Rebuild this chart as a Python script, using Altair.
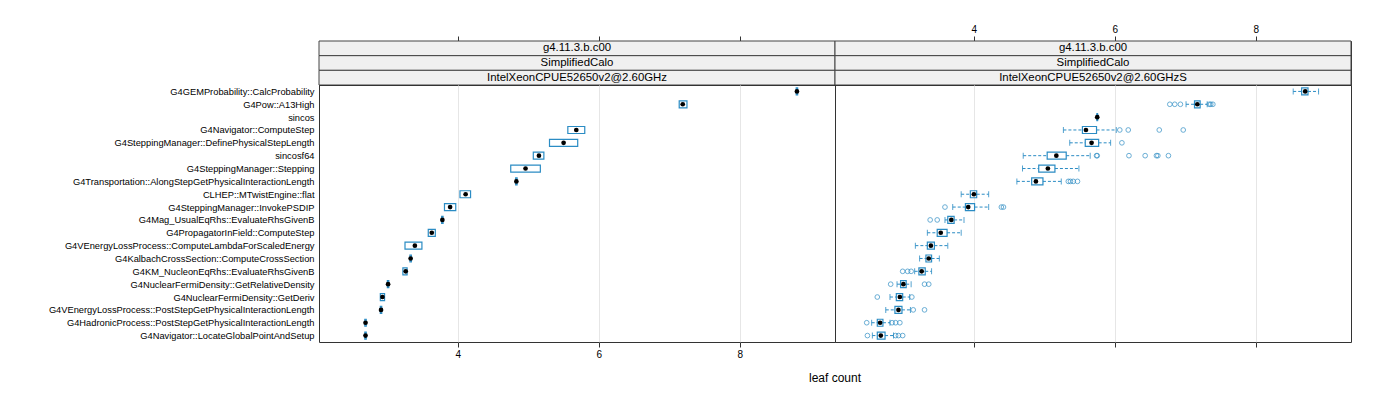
import altair as alt
import pandas as pd

categories = [
    "G4GEMProbability::CalcProbability",
    "G4Pow::A13High",
    "sincos",
    "G4Navigator::ComputeStep",
    "G4SteppingManager::DefinePhysicalStepLength",
    "sincosf64",
    "G4SteppingManager::Stepping",
    "G4Transportation::AlongStepGetPhysicalInteractionLength",
    "CLHEP::MTwistEngine::flat",
    "G4SteppingManager::InvokePSDIP",
    "G4Mag_UsualEqRhs::EvaluateRhsGivenB",
    "G4PropagatorInField::ComputeStep",
    "G4VEnergyLossProcess::ComputeLambdaForScaledEnergy",
    "G4KalbachCrossSection::ComputeCrossSection",
    "G4KM_NucleonEqRhs::EvaluateRhsGivenB",
    "G4NuclearFermiDensity::GetRelativeDensity",
    "G4NuclearFermiDensity::GetDeriv",
    "G4VEnergyLossProcess::PostStepGetPhysicalInteractionLength",
    "G4HadronicProcess::PostStepGetPhysicalInteractionLength",
    "G4Navigator::LocateGlobalPointAndSetup",
]

# left panel (IntelXeonCPUE52650v2@2.60GHz)
left_q1 = [8.80, 7.14, None, 5.56, 5.30, 5.07, 4.75, 4.82, 4.03, 3.81,
           3.77, 3.58, 3.25, 3.32, 3.22, 3.00, 2.90, 2.90, 2.68, 2.68]
left_med = [8.81, 7.19, None, 5.68, 5.50, 5.15, 4.96, 4.83, 4.11, 3.89,
            3.78, 3.63, 3.39, 3.33, 3.26, 3.01, 2.93, 2.91, 2.69, 2.69]
left_q3 = [8.82, 7.25, None, 5.80, 5.70, 5.22, 5.17, 4.84, 4.18, 3.97,
           3.79, 3.68, 3.49, 3.34, 3.28, 3.02, 2.96, 2.92, 2.70, 2.70]

# right panel (IntelXeonCPUE52650v2@2.60GHzS)
right_wlo = [8.53, 7.01, 5.74, 5.27, 5.36, 4.70, 4.69, 4.61, 3.82, 3.70,
             3.59, 3.34, 3.17, 3.23, 3.16, 2.91, 2.81, 2.75, 2.55, 2.56]
right_q1 = [8.65, 7.13, 5.745, 5.54, 5.58, 5.04, 4.92, 4.82, 3.95, 3.88,
            3.63, 3.48, 3.34, 3.32, 3.22, 2.96, 2.90, 2.88, 2.63, 2.63]
right_med = [8.70, 7.17, 5.75, 5.59, 5.67, 5.17, 5.05, 4.88, 4.00, 3.92,
             3.68, 3.53, 3.39, 3.36, 3.26, 3.00, 2.95, 2.93, 2.67, 2.68]
right_q3 = [8.74, 7.21, 5.755, 5.74, 5.77, 5.31, 5.15, 4.98, 4.04, 4.01,
            3.72, 3.62, 3.44, 3.40, 3.31, 3.04, 2.99, 2.98, 2.71, 2.74]
right_whi = [8.89, 7.31, 5.76, 6.02, 5.94, 5.65, 5.49, 5.24, 4.21, 4.21,
             3.86, 3.82, 3.63, 3.51, 3.40, 3.11, 3.09, 3.10, 2.81, 2.86]
right_outliers = [
    [],
    [6.78, 6.85, 6.93, 7.34, 7.36, 7.39],
    [],
    [6.07, 6.19, 6.63, 6.97],
    [6.10],
    [5.74, 5.75, 6.20, 6.43, 6.59, 6.61, 6.76],
    [],
    [5.34, 5.37, 5.41, 5.47],
    [],
    [3.59, 4.39, 4.42],
    [3.38, 3.48],
    [],
    [],
    [],
    [2.99, 3.06, 3.11],
    [2.82, 3.30, 3.36],
    [2.63, 3.12],
    [3.14, 3.30],
    [2.48, 2.84, 2.89, 2.95],
    [2.49, 2.89, 2.93, 2.99],
]

strip_left = ["g4.11.3.b.c00", "SimplifiedCalo", "IntelXeonCPUE52650v2@2.60GHz"]
strip_right = ["g4.11.3.b.c00", "SimplifiedCalo", "IntelXeonCPUE52650v2@2.60GHzS"]
x_ticks = [4, 6, 8]
x_domain = [2.03, 9.35]
x_title = ["leaf count"]

W, H, SH = 516, 257, 44
BLUE = "#2b8cc4"
FONT = "Liberation Sans"

left_df = pd.DataFrame({"cat": categories, "q1": left_q1, "med": left_med, "q3": left_q3}).dropna()
right_df = pd.DataFrame({"cat": categories, "wlo": right_wlo, "q1": right_q1, "med": right_med,
                         "q3": right_q3, "whi": right_whi})
out_df = pd.DataFrame([{"cat": c, "v": v} for c, vals in zip(categories, right_outliers) for v in vals])

xscale = alt.Scale(domain=x_domain, nice=False, zero=False)
yscale = alt.Scale(type="point", domain=categories, padding=0.5)


def strip(labels, show_labels):
    df = pd.DataFrame({"lab": labels})
    yenc = alt.Y("lab:N", sort=labels, axis=None,
                 scale=alt.Scale(type="band", domain=labels, paddingInner=0, paddingOuter=0))
    rect = alt.Chart(df).mark_rect(fill="#f0f0f0", stroke="#444", strokeWidth=1).encode(
        y=yenc, x=alt.value(0), x2=alt.value(W))
    txt = alt.Chart(df).mark_text(fontSize=11.4, font=FONT, color="black", baseline="middle").encode(
        y=yenc, x=alt.value(W / 2), text="lab:N")
    ax = alt.Chart(pd.DataFrame({"t": x_ticks})).mark_point(opacity=0).encode(
        x=alt.X("t:Q", scale=xscale,
                axis=alt.Axis(orient="top", values=x_ticks, labels=show_labels, grid=False,
                              title=None, tickSize=5, labelPadding=2)))
    return alt.layer(rect, txt, ax).properties(width=W, height=SH)


def yenc(left):
    if left:
        return alt.Y("cat:N", sort=categories, scale=yscale,
                     axis=alt.Axis(title=None, ticks=False, tickSize=0, labelPadding=5,
                                   labelFontSize=9.3, labelLimit=600, domain=False, grid=False))
    return alt.Y("cat:N", sort=categories, scale=yscale, axis=None)


def xenc(field, left):
    return alt.X(field, type="quantitative", scale=xscale,
                 axis=alt.Axis(orient="bottom", values=x_ticks, labels=left, grid=True,
                               title=None, tickSize=5, labelPadding=2))


def left_panel():
    box = alt.Chart(left_df).mark_bar(size=7, fill="transparent", stroke=BLUE, strokeWidth=1.2).encode(
        y=yenc(True), x=xenc("q1", True), x2="q3:Q")
    med = alt.Chart(left_df).mark_circle(size=22, color="black", opacity=1).encode(
        y=yenc(True), x=xenc("med", True))
    return alt.layer(box, med).properties(width=W, height=H)


def right_panel():
    w1 = alt.Chart(right_df).mark_rule(color=BLUE, strokeDash=[3, 2], strokeWidth=1).encode(
        y=yenc(False), x=xenc("wlo", False), x2="q1:Q")
    w2 = alt.Chart(right_df).mark_rule(color=BLUE, strokeDash=[3, 2], strokeWidth=1).encode(
        y=yenc(False), x=xenc("q3", False), x2="whi:Q")
    c1 = alt.Chart(right_df).mark_tick(color=BLUE, size=6, thickness=1, opacity=0.8).encode(
        y=yenc(False), x=xenc("wlo", False))
    c2 = alt.Chart(right_df).mark_tick(color=BLUE, size=6, thickness=1, opacity=0.8).encode(
        y=yenc(False), x=xenc("whi", False))
    box = alt.Chart(right_df).mark_bar(size=7, fill="transparent", stroke=BLUE, strokeWidth=1.2).encode(
        y=yenc(False), x=xenc("q1", False), x2="q3:Q")
    med = alt.Chart(right_df).mark_circle(size=22, color="black", opacity=1).encode(
        y=yenc(False), x=xenc("med", False))
    outs = alt.Chart(out_df).mark_point(shape="circle", filled=False, size=22, color=BLUE,
                                        strokeWidth=1).encode(
        y=yenc(False), x=xenc("v", False))
    title = alt.Chart(pd.DataFrame({"t": x_title})).mark_text(
        fontSize=12, font=FONT, color="black", baseline="middle", align="center").encode(
        text="t:N", x=alt.value(0), y=alt.value(H + 36))
    return alt.layer(w1, w2, c1, c2, box, med, outs, title).properties(width=W, height=H)


chart = alt.concat(
    strip(strip_left, False), strip(strip_right, True),
    left_panel(), right_panel(),
    columns=2, spacing=0, bounds="flush",
).properties(
    padding={"left": 47, "top": 23, "right": 5, "bottom": 5}
).configure_view(
    stroke="#333", strokeWidth=1
).configure_axis(
    domain=False, tickColor="#333", labelColor="black", labelFont=FONT, labelFontSize=10,
    gridColor="#e6e6e6"
).configure_text(font=FONT)

chart.save("out.html", embed_options={"renderer": "svg", "actions": False})
